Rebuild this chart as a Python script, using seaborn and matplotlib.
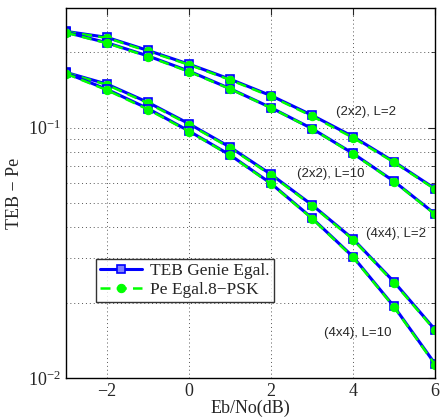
import numpy as np
import pandas as pd
import seaborn as sns
import matplotlib.pyplot as plt
import matplotlib.ticker as ticker

# Eb/No axis (dB)
ebno = [-3, -2, -1, 0, 1, 2, 3, 4, 5, 6]

# TEB Genie Egal. (blue squares) per configuration
teb_2x2_L2 = [0.242, 0.229, 0.203, 0.179, 0.156, 0.134, 0.112, 0.092, 0.0730, 0.0570]
teb_2x2_L10 = [0.240, 0.218, 0.193, 0.168, 0.143, 0.120, 0.0990, 0.0788, 0.0610, 0.0452]
teb_4x4_L2 = [0.166, 0.149, 0.126, 0.1035, 0.0835, 0.0650, 0.0491, 0.0359, 0.0242, 0.0156]
teb_4x4_L10 = [0.165, 0.142, 0.119, 0.0968, 0.0777, 0.0598, 0.0435, 0.0305, 0.0193, 0.0114]

# Pe Egal.8-PSK (green circles)
pe_2x2_L2 = [0.241, 0.228, 0.2015, 0.178, 0.155, 0.133, 0.111, 0.091, 0.0726, 0.0567]
pe_2x2_L10 = [0.239, 0.217, 0.192, 0.167, 0.1425, 0.1197, 0.0988, 0.0785, 0.0608, 0.0450]
pe_4x4_L2 = [0.1655, 0.148, 0.125, 0.1028, 0.0830, 0.0646, 0.0488, 0.0357, 0.0240, 0.0155]
pe_4x4_L10 = [0.164, 0.141, 0.118, 0.0964, 0.0774, 0.0595, 0.0433, 0.0303, 0.0192, 0.0113]

labels = ["(2x2), L=2", "(2x2), L=10", "(4x4), L=2", "(4x4), L=10"]
label_x = [3.58, 2.64, 4.32, 3.29]
label_y = [0.1148, 0.0655, 0.0377, 0.0151]

teb_all = [teb_2x2_L2, teb_2x2_L10, teb_4x4_L2, teb_4x4_L10]
pe_all = [pe_2x2_L2, pe_2x2_L10, pe_4x4_L2, pe_4x4_L10]

sns.set_style("white")
plt.rcParams['font.family'] = ['Liberation Serif', 'DejaVu Serif']
plt.rcParams['mathtext.fontset'] = 'stix'

fig = plt.figure(figsize=(4.42, 4.20), dpi=100)
ax = fig.add_axes([66 / 442, 1 - 378 / 420, (435 - 66) / 442, (378 - 8) / 420])

for i in range(4):
    df = pd.DataFrame({"E": ebno, "teb": teb_all[i], "pe": pe_all[i]})
    sns.lineplot(x="E", y="teb", data=df, ax=ax, color='#0000ff', linewidth=2.2,
                 marker='s', markersize=6, mec='#0000ff', mfc='#8080ff', mew=1.2,
                 label='TEB Genie Egal.' if i == 0 else None)
    sns.lineplot(x="E", y="pe", data=df, ax=ax, color='#00ff00', linewidth=1.8,
                 linestyle=(0, (4, 2.5)), marker='o', markersize=6, mec='#00ff00',
                 mfc='#00ff00', label='Pe Egal.8\u2212PSK' if i == 0 else None)

for t, x, y in zip(labels, label_x, label_y):
    ax.text(x, y, t, fontsize=9.5, family='Liberation Sans', ha='left', va='center')

ax.set_yscale('log')
ax.set_xlim(-3, 6)
ax.set_ylim(0.01, 0.3)
ax.set_xticks([-2, 0, 2, 4, 6])
ax.xaxis.set_major_formatter(ticker.FuncFormatter(lambda v, p: f"{v:g}".replace('-', '\u2212')))
ax.yaxis.set_major_locator(ticker.LogLocator(base=10, numticks=5))
ax.yaxis.set_minor_locator(ticker.LogLocator(base=10, subs=np.arange(2, 10), numticks=20))
ax.yaxis.set_minor_formatter(ticker.NullFormatter())

ax.grid(True, which='major', axis='both', linestyle=(0, (1, 3)), color='#555555', linewidth=0.7)
ax.grid(True, which='minor', axis='y', linestyle=(0, (1, 3)), color='#555555', linewidth=0.7)

ax.tick_params(axis='both', which='both', direction='in', top=True, right=True, labelsize=13)
ax.tick_params(axis='both', which='major', length=5)
ax.tick_params(axis='y', which='minor', length=3)
for s in ax.spines.values():
    s.set_color('black')
    s.set_linewidth(1.0)

ax.set_xlabel("Eb/No(dB)", fontsize=13, labelpad=0)
ax.set_ylabel("TEB \u2212 Pe", fontsize=13, labelpad=4)

leg = ax.legend(loc='lower left', bbox_to_anchor=(0.08, 0.205), fontsize=12.5,
                frameon=True, fancybox=False, handlelength=2.4, borderpad=0.25,
                labelspacing=0.15, handletextpad=0.5, borderaxespad=0)
leg.get_frame().set_edgecolor('black')
leg.get_frame().set_linewidth(1.0)

fig.savefig("out.png", dpi=100)
